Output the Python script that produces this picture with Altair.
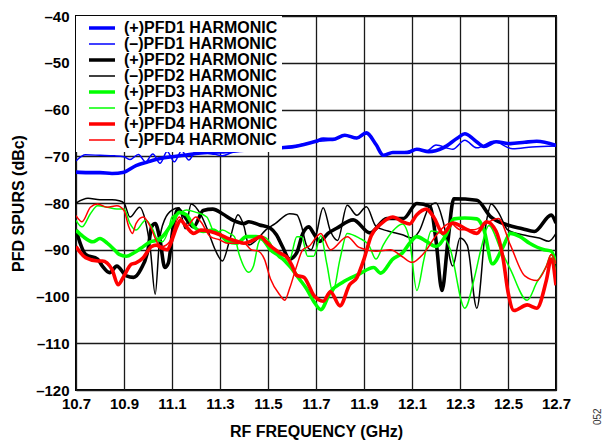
import altair as alt
import pandas as pd

SERIES = ["(+)PFD1 HARMONIC", "(\u2013)PFD1 HARMONIC",
          "(+)PFD2 HARMONIC", "(\u2013)PFD2 HARMONIC",
          "(+)PFD3 HARMONIC", "(\u2013)PFD3 HARMONIC",
          "(+)PFD4 HARMONIC", "(\u2013)PFD4 HARMONIC"]
COLORS = ["#0000ff", "#0000ff", "#000000", "#000000",
          "#00ff00", "#00ff00", "#ff0000", "#ff0000"]
WIDTHS = [3.6, 1.5, 3.6, 1.5, 3.6, 1.5, 3.6, 1.5]

X_TICKS = [10.7, 10.9, 11.1, 11.3, 11.5, 11.7, 11.9, 12.1, 12.3, 12.5, 12.7]
Y_TICKS = [-120, -110, -100, -90, -80, -70, -60, -50, -40]

PFD1P_F = [10.70, 10.75, 10.80, 10.85, 10.90, 10.95, 11.00, 11.05, 11.10, 11.15, 11.20, 11.25, 11.30, 11.35,
           11.40, 11.45, 11.50, 11.55, 11.60, 11.65, 11.70, 11.73, 11.77, 11.82, 11.87, 11.91, 11.95, 11.98,
           12.02, 12.08, 12.12, 12.17, 12.23, 12.29, 12.32, 12.36, 12.40, 12.45, 12.51, 12.57, 12.62, 12.70]
PFD1P_V = [-73.4, -73.5, -73.5, -73.7, -73.4, -72.0, -71.2, -70.5, -70.1, -69.8, -69.4, -69.2, -69.1, -68.9,
           -68.7, -68.6, -68.4, -68.2, -68.0, -67.5, -66.8, -66.3, -66.4, -65.5, -66.1, -65.0, -67.5, -69.8,
           -69.2, -69.2, -68.5, -69.0, -68.2, -66.1, -65.2, -66.5, -67.9, -66.9, -67.3, -67.0, -66.8, -67.7]

PFD1M_F = [10.70, 10.74, 10.80, 10.86, 10.90, 10.925, 10.96, 10.99, 11.02, 11.05, 11.08, 11.11, 11.14, 11.17,
           11.20, 11.24, 11.28, 11.31, 11.35, 11.40, 11.50, 11.60, 11.70, 11.77, 11.82, 11.87, 11.91, 11.95,
           11.98, 12.02, 12.08, 12.12, 12.16, 12.20, 12.27, 12.32, 12.37, 12.44, 12.52, 12.60, 12.70]
PFD1M_V = [-71.0, -69.7, -69.8, -69.9, -70.1, -70.7, -69.6, -71.2, -69.5, -71.5, -69.0, -71.2, -68.8, -70.8,
           -68.9, -69.3, -69.6, -69.9, -69.2, -68.8, -68.4, -67.9, -66.9, -66.5, -65.6, -66.2, -65.2, -67.6,
           -69.7, -69.3, -69.0, -68.6, -68.9, -67.6, -68.5, -66.6, -68.2, -66.8, -68.4, -68.0, -67.8]

PFD2P_F = [10.70, 10.74, 10.79, 10.81, 10.84, 10.87, 10.91, 10.94, 10.97, 11.00, 11.015, 11.03, 11.05, 11.07,
           11.085, 11.105, 11.125, 11.15, 11.19, 11.23, 11.27, 11.31, 11.355, 11.40, 11.42, 11.465, 11.51,
           11.535, 11.56, 11.59, 11.62, 11.645, 11.67, 11.69, 11.716, 11.75, 11.786, 11.855, 11.925, 11.995,
           12.065, 12.12, 12.176, 12.20, 12.225, 12.25, 12.274, 12.37, 12.427, 12.497, 12.56, 12.61, 12.68, 12.70]
PFD2P_V = [-85.8, -91.0, -92.0, -93.5, -94.9, -93.5, -95.6, -95.9, -94.2, -90.0, -85.1, -84.4, -87.9, -93.8,
           -92.8, -85.1, -81.3, -82.7, -85.1, -81.6, -81.3, -82.3, -83.7, -84.4, -84.0, -84.7, -85.4,
           -86.8, -89.3, -92.0, -90.6, -86.5, -85.1, -86.5, -88.2, -86.5, -85.4, -83.6, -86.4, -83.3,
           -83.3, -80.1, -80.8, -88.0, -98.7, -88.0, -79.1, -79.4, -82.9, -84.7, -85.5, -86.1, -82.6, -84.3]

PFD2M_F = [10.70, 10.75, 10.80, 10.85, 10.88, 10.90, 10.925, 10.965, 10.99, 11.01, 11.03, 11.048, 11.07, 11.10,
           11.13, 11.155, 11.18, 11.22, 11.25, 11.28, 11.31, 11.34, 11.375, 11.40, 11.42, 11.45, 11.49, 11.53,
           11.59, 11.62, 11.64, 11.66, 11.68, 11.70, 11.73, 11.76, 11.79, 11.83, 11.87, 11.91, 11.95, 12.00,
           12.06, 12.10, 12.13, 12.17, 12.20, 12.23, 12.27, 12.30, 12.33, 12.37, 12.41, 12.43, 12.46, 12.50,
           12.58, 12.63, 12.67, 12.70]
PFD2M_V = [-80.0, -79.0, -79.3, -79.3, -79.5, -80.0, -83.0, -80.9, -84.0, -90.0, -99.5, -88.0, -83.5, -81.5,
           -81.0, -85.5, -80.2, -82.5, -86.0, -90.0, -92.4, -88.0, -82.5, -85.0, -89.0, -88.0, -85.8, -84.4,
           -82.3, -82.5, -85.0, -89.0, -90.0, -87.0, -81.0, -86.0, -88.0, -80.5, -82.6, -80.8, -85.0, -86.0,
           -86.8, -87.5, -86.0, -81.0, -80.0, -84.0, -93.5, -87.5, -89.0, -102.5, -84.0, -80.2, -82.0, -85.8,
           -87.0, -87.5, -88.2, -86.5]

PFD3P_F = [10.70, 10.73, 10.77, 10.80, 10.83, 10.86, 10.88, 10.91, 10.94, 10.97, 11.01, 11.04, 11.06, 11.10,
           11.13, 11.16, 11.19, 11.23, 11.27, 11.31, 11.33, 11.37, 11.41, 11.45, 11.48, 11.51, 11.55, 11.59,
           11.63, 11.66, 11.69, 11.72, 11.76, 11.81, 11.88, 11.94, 11.97, 12.02, 12.06, 12.09, 12.12, 12.16,
           12.20, 12.24, 12.275, 12.32, 12.37, 12.40, 12.435, 12.48, 12.51, 12.55, 12.59, 12.65, 12.68, 12.70]
PFD3P_V = [-85.8, -87.2, -88.3, -87.6, -88.6, -90.0, -91.0, -91.4, -90.7, -89.7, -88.3, -87.9, -87.2, -84.4,
           -82.0, -82.5, -85.0, -86.1, -85.8, -87.2, -88.2, -88.6, -87.2, -87.2, -87.9, -90.0, -91.4, -93.5,
           -96.2, -98.3, -101.0, -102.8, -99.0, -97.0, -95.2, -93.8, -95.0, -92.0, -90.7, -88.6, -87.2, -88.2,
           -89.3, -87.0, -83.4, -83.2, -83.4, -85.8, -93.0, -89.3, -86.5, -87.2, -88.6, -90.0, -90.3, -93.0]

PFD3M_F = [10.70, 10.725, 10.76, 10.79, 10.83, 10.87, 10.90, 10.925, 10.95, 10.99, 11.015, 11.04, 11.06, 11.085,
           11.10, 11.13, 11.16, 11.20, 11.245, 11.28, 11.31, 11.34, 11.36, 11.38, 11.42, 11.44, 11.46, 11.48,
           11.51, 11.53, 11.56, 11.59, 11.62, 11.64, 11.665, 11.69, 11.72, 11.745, 11.77, 11.80, 11.83, 11.88,
           11.92, 11.95, 11.98, 12.02, 12.06, 12.09, 12.12, 12.15, 12.18, 12.22, 12.26, 12.32, 12.36, 12.39,
           12.42, 12.47, 12.51, 12.58, 12.62, 12.66, 12.68, 12.70]
PFD3M_V = [-83.7, -85.1, -82.3, -80.6, -80.9, -81.3, -81.3, -84.4, -85.8, -83.7, -85.1, -87.9, -88.3, -85.8,
           -83.0, -82.2, -81.5, -82.0, -83.0, -86.5, -85.8, -86.5, -87.2, -91.0, -94.8, -93.4, -88.6, -87.2,
           -88.6, -90.7, -92.0, -92.0, -87.2, -87.2, -91.4, -91.4, -87.0, -93.0, -99.0, -92.0, -86.5, -87.5,
           -89.0, -92.0, -89.0, -86.0, -84.5, -88.0, -98.7, -92.0, -86.0, -86.5, -90.0, -102.5, -96.0, -89.3,
           -84.8, -90.0, -94.2, -100.8, -97.0, -93.5, -91.0, -94.9]

PFD4P_F = [10.70, 10.74, 10.79, 10.81, 10.85, 10.875, 10.90, 10.93, 10.95, 10.98, 11.015, 11.035, 11.055, 11.08,
           11.10, 11.12, 11.135, 11.16, 11.19, 11.22, 11.26, 11.30, 11.33, 11.37, 11.40, 11.44, 11.47, 11.49,
           11.52, 11.55, 11.58, 11.60, 11.62, 11.65, 11.67, 11.69, 11.73, 11.76, 11.80, 11.84, 11.87, 11.90,
           11.93, 11.97, 12.02, 12.06, 12.09, 12.12, 12.16, 12.19, 12.23, 12.27, 12.33, 12.37, 12.41, 12.45,
           12.48, 12.50, 12.525, 12.58, 12.62, 12.66, 12.68, 12.70]
PFD4P_V = [-89.3, -91.7, -92.4, -92.4, -94.2, -97.5, -95.6, -93.1, -92.8, -91.7, -89.3, -89.0, -89.6, -90.0,
           -87.9, -85.1, -83.7, -85.1, -86.5, -85.8, -86.1, -86.8, -87.5, -88.2, -88.6, -87.9, -87.2, -88.2,
           -89.6, -90.7, -91.7, -93.4, -95.5, -95.9, -97.6, -99.7, -101.0, -99.0, -102.0, -97.5, -96.0, -92.0,
           -87.0, -84.5, -83.0, -84.0, -84.5, -82.5, -81.3, -83.0, -86.5, -84.3, -85.7, -86.5, -84.0, -86.0,
           -92.0, -99.0, -103.0, -101.8, -102.5, -96.5, -92.0, -97.6]

PFD4M_F = [10.70, 10.725, 10.76, 10.79, 10.83, 10.87, 10.90, 10.92, 10.935, 10.95, 10.98, 11.01, 11.04, 11.06,
           11.09, 11.13, 11.16, 11.20, 11.22, 11.26, 11.30, 11.33, 11.37, 11.40, 11.43, 11.46, 11.485, 11.51,
           11.55, 11.57, 11.59, 11.62, 11.645, 11.67, 11.72, 11.76, 11.83, 11.88, 11.95, 12.01, 12.06, 12.10,
           12.15, 12.20, 12.26, 12.30, 12.36, 12.41, 12.46, 12.51, 12.57, 12.62, 12.66, 12.68, 12.70]
PFD4M_V = [-82.7, -84.0, -80.9, -80.2, -80.9, -80.6, -81.6, -85.1, -86.5, -84.4, -83.0, -85.1, -88.6, -89.3,
           -88.3, -83.0, -85.0, -83.0, -84.0, -87.2, -87.9, -88.6, -88.6, -88.6, -90.0, -90.3, -92.0, -96.2,
           -99.7, -100.8, -98.3, -93.4, -90.0, -89.3, -86.5, -90.0, -87.2, -89.5, -90.3, -90.0, -91.5, -92.7,
           -90.7, -87.0, -84.3, -85.7, -85.7, -84.3, -83.3, -89.0, -95.6, -96.6, -93.5, -91.0, -93.0]

TRACES = [(SERIES[0], PFD1P_F, PFD1P_V), (SERIES[1], PFD1M_F, PFD1M_V),
          (SERIES[2], PFD2P_F, PFD2P_V), (SERIES[3], PFD2M_F, PFD2M_V),
          (SERIES[4], PFD3P_F, PFD3P_V), (SERIES[5], PFD3M_F, PFD3M_V),
          (SERIES[6], PFD4P_F, PFD4P_V), (SERIES[7], PFD4M_F, PFD4M_V)]

rows = []
for k, (name, fs, vs) in enumerate(TRACES):
    assert len(fs) == len(vs), (name, len(fs), len(vs))
    for i, (f, v) in enumerate(zip(fs, vs)):
        rows.append({"series": name, "k": k, "f": f, "v": v, "i": i})
df = pd.DataFrame(rows)

FONT = "Liberation Sans"

legend_kw = dict(
    title=None, orient="top-left", offset=0, padding=4,
    fillColor="white", symbolType="stroke", symbolSize=676,
    symbolOffset=7, labelOffset=7, rowPadding=0, clipHeight=16,
    labelFont=FONT, labelFontSize=16, labelFontWeight="bold",
    labelColor="#000000", labelLimit=400,
)

chart = alt.Chart(df).mark_line(interpolate="monotone", clip=True).encode(
    x=alt.X("f:Q",
            scale=alt.Scale(domain=[10.7, 12.7], nice=False, zero=False),
            axis=alt.Axis(values=X_TICKS, format=".1f", title="RF FREQUENCY (GHz)",
                          labelFlush=False, labelOverlap=False,
                          labelPadding=6, titlePadding=12)),
    y=alt.Y("v:Q",
            scale=alt.Scale(domain=[-120, -40], nice=False, zero=False),
            axis=alt.Axis(values=Y_TICKS, title="PFD SPURS (dBc)",
                          labelExpr="'\u2013' + abs(datum.value)",
                          labelFlush=False, labelOverlap=False,
                          labelPadding=7, titlePadding=9)),
    color=alt.Color("series:N", scale=alt.Scale(domain=SERIES, range=COLORS),
                    legend=alt.Legend(**legend_kw)),
    strokeWidth=alt.StrokeWidth("series:N",
                                scale=alt.Scale(type="ordinal", domain=SERIES, range=WIDTHS),
                                legend=alt.Legend(**legend_kw)),
    order=alt.Order("i:Q"),
).properties(
    width=480, height=374,
    autosize=alt.AutoSizeParams(type="none"),
    padding={"left": 68, "top": 8, "right": 47, "bottom": 52},
    title=alt.TitleParams(text="052", orient="right", anchor="end", frame="group", angle=270,
                          align="left", dx=-35, offset=12, fontSize=10,
                          fontWeight="normal", font=FONT, color="#333333"),
).configure_axis(
    labelFont=FONT, labelFontSize=15, labelFontWeight="bold", labelColor="#000000",
    titleFont=FONT, titleFontSize=16, titleFontWeight="bold", titleColor="#000000",
    ticks=False, domain=False,
    grid=True, gridColor="#1a1a1a", gridWidth=1.3, gridOpacity=1,
).configure_view(
    stroke="#000000", strokeWidth=2,
)

chart.save("out.html", embed_options={"renderer": "svg", "actions": False})
